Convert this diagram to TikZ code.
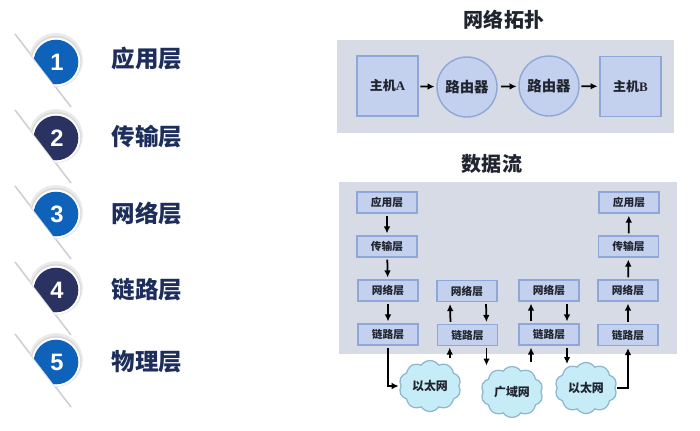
\documentclass[tikz,border=0pt]{standalone}
\usepackage{fontspec}
\setmainfont{Liberation Serif}
\newfontfamily\cjk{Noto Sans CJK SC}
\newfontfamily\num{Liberation Sans}
\usetikzlibrary{arrows.meta,positioning,calc,shapes.symbols}
\definecolor{ink}{HTML}{20242E}
\definecolor{navy}{HTML}{1E2E5C}
\definecolor{panel}{HTML}{D6DBE5}
\definecolor{boxfill}{HTML}{C3D1EE}
\definecolor{boxline}{HTML}{8EA6D8}
\definecolor{cloudfill}{HTML}{C6ECF8}
\definecolor{cloudline}{HTML}{8DB6CC}
\definecolor{badgeblue}{HTML}{0F62B9}
\definecolor{badgedark}{HTML}{2A3262}
\definecolor{rim}{HTML}{CDCFD3}

\begin{document}
\begin{tikzpicture}[x=.02cm,y=-.02cm,>={Latex[length=4pt,width=3.8pt]},line width=.6pt,every node/.style={font=\cjk\bfseries,text=ink,inner sep=0pt},
layer/.style={font=\cjk\bfseries\fontsize{13.4}{15}\selectfont,text=navy,anchor=west},
heading/.style={font=\cjk\bfseries\fontsize{11.4}{13}\selectfont},
host/.style={draw=boxline,fill=boxfill,line width=.8pt,minimum width=1.22cm,minimum height=1.2cm,font=\cjk\bfseries\fontsize{7.4}{9}\selectfont},
router/.style={circle,draw=boxline,fill=boxfill,line width=.8pt,minimum size=1.2cm,font=\cjk\bfseries\fontsize{8.2}{9}\selectfont},
stack/.style={draw=boxline,fill=boxfill,line width=.9pt,minimum width=1.2cm,minimum height=.42cm,font=\cjk\bfseries\fontsize{6.1}{7}\selectfont},
net/.style={cloud,cloud puffs=10,cloud puff arc=110,aspect=1.2,draw=cloudline,fill=cloudfill,line width=.7pt,minimum width=1.24cm,minimum height=1.02cm,font=\cjk\bfseries\fontsize{6.8}{8}\selectfont},
flow/.style={->,black,line width=1pt,shorten >=1pt,shorten <=1pt}]
\path[use as bounding box] (0,0) rectangle (700,430);

% left column
\foreach \n/\py/\ty/\col/\lab in {1/62/59/badgeblue/应用层,2/138/137/badgedark/传输层,3/214/214/badgeblue/网络层,4/290/290/badgedark/链路层,5/362/362/badgeblue/物理层}{
  \begin{scope}[shift={(56,\py)}]
    \draw[rim,line width=.9pt] (-41,-28)--(15,45);
    \begin{scope}
      \clip (-41,-28)--(15,45)--(60,45)--(60,-60)--(-41,-60)--cycle;
      \fill[black!8] (0,-2) circle (27);
      \fill[black!14] (0,-1) circle (25.4);
      \fill[white] (0,0) circle (24.3);
      \fill[\col] (0,0) circle (22.3);
    \end{scope}
    \node[font=\num\bfseries\fontsize{13.5}{15}\selectfont,text=white] (badge\n) at (1,0) {\n};
  \end{scope}
  \node[layer] (label\n) at (111,\ty) {\lab};
}

% topology
\node[heading] (topotitle) at (504,20) {网络拓扑};
\fill[panel] (337,40) rectangle (674,133);
\node[host] (hostA) at (387.5,86) {主机\textrm{A}};
\node[router] (routerA) at (467,87) {路由器};
\node[router] (routerB) at (549,86) {路由器};
\node[host] (hostB) at (630.5,86.5) {主机\textrm{B}};
\draw[flow] (hostA)--(routerA);
\draw[flow,shorten <=2pt] (routerA)--(routerB);
\draw[flow] (routerB)--(hostB);

% data flow
\node[heading] (flowtitle) at (492,164) {数据流};
\fill[panel] (339,182) rectangle (677,354);
\node[stack] (appA) at (387,202.5) {应用层};
\node[stack] (transA) at (387,246.5) {传输层};
\node[stack] (netA) at (388,290.5) {网络层};
\node[stack] (linkA) at (388,334.5) {链路层};
\node[stack] (netB) at (467,291) {网络层};
\node[stack] (linkB) at (467.5,335) {链路层};
\node[stack] (netC) at (549,290.5) {网络层};
\node[stack] (linkC) at (549,334.5) {链路层};
\node[stack] (appD) at (629,202.5) {应用层};
\node[stack] (transD) at (628.5,246.5) {传输层};
\node[stack] (netD) at (628,290.5) {网络层};
\node[stack] (linkD) at (628,335) {链路层};
\node[net] (etherA) at (430,386) {以太网};
\node[net] (wan) at (512,392) {广域网};
\node[net] (etherB) at (586,388) {以太网};

\draw[flow] (appA)--(transA);
\draw[flow] (transA)--(netA);
\draw[flow] (netA)--(linkA);
\draw[flow] (linkA.south)|-(etherA.west);
\draw[flow] (etherA.north-|linkB.south west)++(13,0)--++(0,-14);
\draw[flow] ([xshift=-.34cm]linkB.north)--([xshift=-.34cm]netB.south);
\draw[flow] ([xshift=.38cm]netB.south)--([xshift=.38cm]linkB.north);
\draw[flow] ([xshift=.38cm]linkB.south)--++(0,21);
\draw[flow] ([xshift=-.36cm]linkC.south)++(0,18)--([xshift=-.36cm]linkC.south);
\draw[flow] ([xshift=-.36cm]linkC.north)--([xshift=-.36cm]netC.south);
\draw[flow] ([xshift=.36cm]netC.south)--([xshift=.36cm]linkC.north);
\draw[flow] ([xshift=.36cm]linkC.south)--++(0,20);
\draw[flow] (etherB.east)-|(linkD.south);
\draw[flow] (linkD)--(netD);
\draw[flow] (netD)--(transD);
\draw[flow] (transD)--(appD);
\end{tikzpicture}
\end{document}
